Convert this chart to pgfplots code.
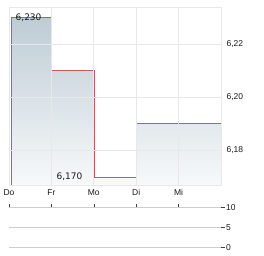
\documentclass[border=0pt]{standalone}
\usepackage{pgfplots}
\pgfplotsset{compat=1.18}
\usepackage{fontspec}
\setmainfont{Liberation Sans}
\newfontfamily\lblfont{DejaVu Sans}
\definecolor{gridc}{RGB}{232,232,232}
\definecolor{lowgrid}{RGB}{205,205,205}
\definecolor{linec}{RGB}{200,88,94}
\definecolor{filltop}{RGB}{190,204,213}
\definecolor{fillbot}{RGB}{247,249,250}
\definecolor{txt}{RGB}{25,25,25}
\begin{document}
\begin{tikzpicture}[font=\fontsize{8.5}{10}\selectfont]
\path[use as bounding box] (0,0) rectangle (264pt,255pt);
\begin{axis}[at={(9pt,70pt)}, anchor=south west, scale only axis,
  width=212pt, height=178pt,
  xmin=0, xmax=5, ymin=6.1670, ymax=6.2339,
  axis on top,
  axis line style={gridc, line width=0.8pt},
  grid=major, grid style={gridc, line width=0.8pt},
  xtick={0,1,2,3,4}, xticklabels={Do,Fr,Mo,Di,Mi},
  ytick={6.18,6.20,6.22}, yticklabels={{6,18},{6,20},{6,22}},
  yticklabel pos=right,
  major tick length=0pt,
  xticklabel style={yshift=-1pt, text=txt},
  yticklabel style={xshift=2pt, text=txt},
]
\addplot[draw=none, top color=filltop, bottom color=fillbot] coordinates {
  (0.07,6.1670) (0.07,6.230) (1,6.230) (1,6.21) (2.02,6.21) (2.02,6.170)
  (3,6.170) (3,6.19) (5,6.19) (5,6.1670)};
\addplot[linec, line width=1pt] coordinates {
  (0.07,6.1670) (0.07,6.230) (1,6.230) (1,6.170) (1,6.21) (2.02,6.21)
  (2.02,6.170) (3,6.170) (3,6.19) (5,6.19)};
\node[anchor=west, inner sep=0pt, xshift=3.5pt, text=txt, font=\lblfont\fontsize{9}{10}\selectfont] at (axis cs:0.07,6.230) {6,230};
\node[anchor=west, inner sep=0pt, xshift=5pt, text=txt, font=\lblfont\fontsize{9}{10}\selectfont] at (axis cs:1,6.170) {6,170};
\end{axis}
\begin{axis}[at={(9pt,7.7pt)}, anchor=south west, scale only axis,
  width=212pt, height=40pt,
  xmin=0, xmax=5, ymin=0, ymax=10,
  axis line style={draw=none},
  ytick={0,5,10}, ymajorgrids, grid style={lowgrid, line width=0.8pt},
  ytick pos=right, yticklabel pos=right, tick align=outside,
  tick style={black!75, line width=0.6pt}, major tick length=3.5pt,
  xtick={0,1,2,3,4}, xticklabels={,,,,}, xtick pos=right,
  /pgf/number format/assume math mode=true,
  yticklabel style={xshift=-2pt, text=txt},
]
\addplot[draw=none] coordinates {(0,0) (5,0)};
\end{axis}
\end{tikzpicture}
\end{document}
